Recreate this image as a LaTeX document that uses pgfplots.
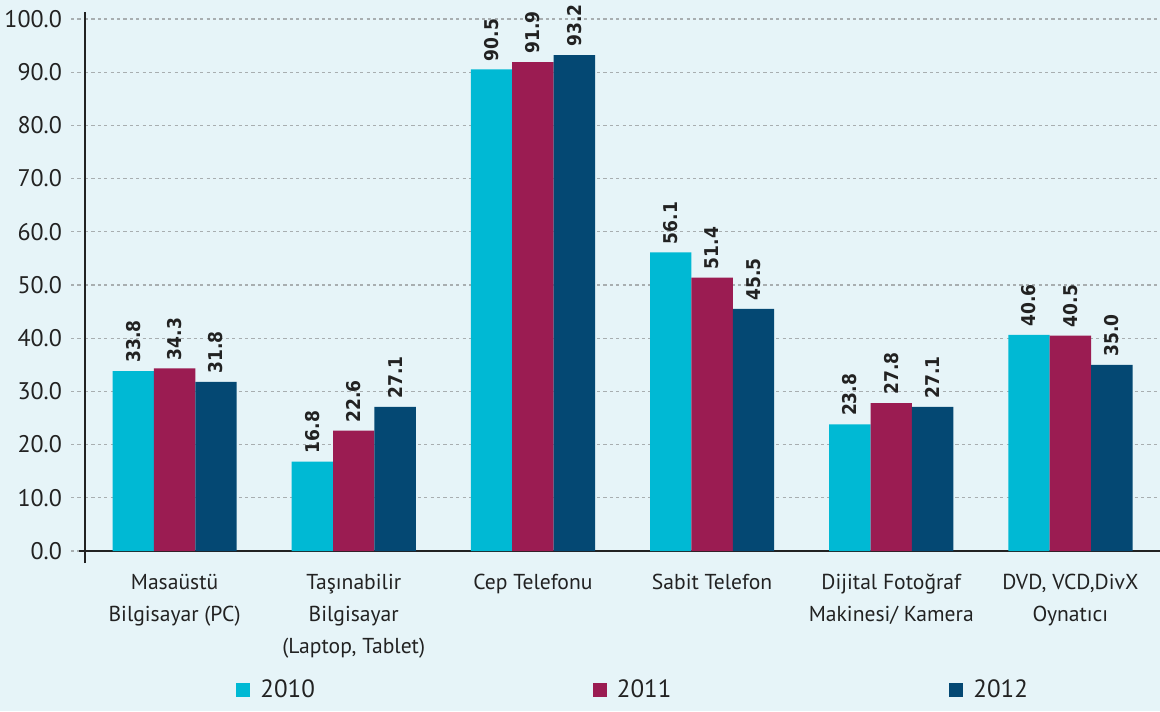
\documentclass[border=0pt]{standalone}
\usepackage{pgfplots}
\pgfplotsset{compat=1.18}
\usepackage{fontspec}
\setmainfont{PT Sans}
\newfontfamily\cond{DejaVu Sans Condensed}
\definecolor{bg}{HTML}{E6F4F8}
\definecolor{cA}{HTML}{00B9D4}
\definecolor{cB}{HTML}{9B1C52}
\definecolor{cC}{HTML}{044873}
\definecolor{txt}{HTML}{222222}
\definecolor{gridc}{HTML}{A8AEB0}
\begin{document}
\begin{tikzpicture}
\fill[bg] (-42.5pt,-80pt) rectangle (537.5pt,275.5pt);
\begin{axis}[
  scale only axis,
  width=537.5pt, height=269.5pt,
  ybar=0pt, bar width=0.231,
  xmin=-0.5, xmax=5.5,
  ymin=0, ymax=101.3,
  ytick={0,10,...,100},
  xtick={0,1,2,3,4,5},
  xticklabels={{Masaüstü\\Bilgisayar (PC)},{Taşınabilir\\Bilgisayar\\(Laptop, Tablet)},{Cep Telefonu},{Sabit Telefon},{Dijital Fotoğraf\\Makinesi/ Kamera},{DVD, VCD,DivX\\Oynatıcı}},
  xticklabel style={align=center, font=\fontsize{10.8}{16}\selectfont, text=txt, yshift=-1pt},
  yticklabel style={font=\fontsize{12}{13}\selectfont, text=txt, xshift=-1pt},
  /pgf/number format/assume math mode=true,
  yticklabel={\pgfmathprintnumber[fixed,zerofill,precision=1]{\tick}},
  axis x line*=bottom, axis y line*=left,
  axis line style={draw=txt, line width=1.1pt},
  x axis line style={-, shorten <=-3pt}, y axis line style={-, shorten <=-6pt},
  xtick style={draw=none},
  ytick style={draw=gridc, dash pattern=on 1.6pt off 1.6pt, line width=0.6pt},
  tick align=outside, major tick length=7pt,
  ymajorgrids, grid style={draw=gridc, dash pattern=on 1.6pt off 1.6pt, line width=0.6pt},
  nodes near coords={\pgfmathprintnumber[fixed,zerofill,precision=1]{\pgfplotspointmeta}},
  every node near coord/.append style={rotate=90, anchor=west, font=\cond\bfseries\fontsize{9.5}{10}\selectfont, text=txt, inner sep=2pt, xshift=2pt},
  legend columns=3,
  legend style={draw=none, fill=none, at={(0.1405,-0.258)}, anchor=west, inner xsep=0pt,
    font=\fontsize{12.5}{13}\selectfont, text=txt,
    /tikz/every odd column/.append style={column sep=3pt},
    /tikz/every even column/.append style={column sep=137pt}},
  legend image code/.code={\fill[#1] (0pt,-3.5pt) rectangle (7pt,3.5pt);},
]
\addplot[fill=cA, draw=none] coordinates {(0,33.8) (1,16.8) (2,90.5) (3,56.1) (4,23.8) (5,40.6)};
\addplot[fill=cB, draw=none] coordinates {(0,34.3) (1,22.6) (2,91.9) (3,51.4) (4,27.8) (5,40.5)};
\addplot[fill=cC, draw=none] coordinates {(0,31.8) (1,27.1) (2,93.2) (3,45.5) (4,27.1) (5,35.0)};
\legend{2010,2011,2012}
\end{axis}
\pgfresetboundingbox
\path[use as bounding box] (-42.5pt,-80pt) rectangle (537.5pt,275.5pt);
\end{tikzpicture}
\end{document}
